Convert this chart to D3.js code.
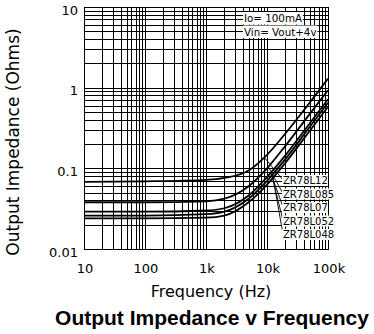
<!DOCTYPE html>
<html>
<head>
<meta charset="utf-8">
<script src="https://cdn.jsdelivr.net/npm/d3@7"></script>
<style>
  body { margin: 0; background: #fff; }
  svg { display: block; }
</style>
</head>
<body>
<svg id="chart" width="374" height="334"></svg>
<script>
// values (Hz, Ohms)
const freqs = [10, 100, 1000, 2000, 5000, 10000, 20000, 50000, 100000];
const zr78l12  = [0.068, 0.069, 0.072, 0.076, 0.094, 0.147, 0.27, 0.65, 1.3];
const zr78l085 = [0.038, 0.038, 0.039, 0.042, 0.060, 0.100, 0.19, 0.47, 0.93];
const zr78l07  = [0.029, 0.029, 0.030, 0.032, 0.046, 0.078, 0.145, 0.36, 0.72];
const zr78l052 = [0.026, 0.026, 0.027, 0.029, 0.042, 0.070, 0.13, 0.325, 0.65];
const zr78l048 = [0.024, 0.024, 0.0245, 0.026, 0.038, 0.063, 0.117, 0.29, 0.58];

const seriesNames = ["ZR78L12", "ZR78L085", "ZR78L07", "ZR78L052", "ZR78L048"];
const seriesValues = [zr78l12, zr78l085, zr78l07, zr78l052, zr78l048];
const leaderFreqs = [9000, 10500, 11500, 12000, 12500];

const xTickLabels = ["10", "100", "1k", "10k", "100k"];
const xTickValues = [10, 100, 1000, 10000, 100000];
const yTickLabels = ["0.01", "0.1", "1", "10"];
const yTickValues = [0.01, 0.1, 1, 10];

const conditions = ["Io= 100mA", "Vin= Vout+4v"];

const svg = d3.select("#chart");
const plot = { left: 84, right: 328, top: 7, bottom: 249 };

const x = d3.scaleLog().domain([10, 100000]).range([plot.left, plot.right]);
const y = d3.scaleLog().domain([0.01, 10]).range([plot.bottom, plot.top]);

const crisp = v => Math.round(v) + 0.5;

// grid
const grid = svg.append("g")
  .attr("stroke", "#000")
  .attr("stroke-width", 1)
  .attr("shape-rendering", "crispEdges");

grid.selectAll("line.v")
  .data(x.ticks())
  .join("line")
  .attr("class", "v")
  .attr("x1", d => crisp(x(d))).attr("x2", d => crisp(x(d)))
  .attr("y1", plot.top).attr("y2", plot.bottom);

grid.selectAll("line.h")
  .data(y.ticks())
  .join("line")
  .attr("class", "h")
  .attr("y1", d => crisp(y(d))).attr("y2", d => crisp(y(d)))
  .attr("x1", plot.left).attr("x2", plot.right);

grid.append("rect")
  .attr("x", crisp(plot.left)).attr("y", crisp(plot.top))
  .attr("width", Math.round(plot.right - plot.left))
  .attr("height", Math.round(plot.bottom - plot.top))
  .attr("fill", "none");

// curves
const line = d3.line()
  .x(d => x(d[0]))
  .y(d => y(d[1]))
  .curve(d3.curveMonotoneX);

svg.append("g")
  .selectAll("path")
  .data(seriesValues)
  .join("path")
  .attr("d", vals => line(freqs.map((f, i) => [f, vals[i]])))
  .attr("fill", "none")
  .attr("stroke", "#000")
  .attr("stroke-width", 1.8);

// log-log lookup of a curve at a frequency, for the leader lines
function valueAt(vals, f) {
  const i = Math.max(1, d3.bisectLeft(freqs, f));
  const t = (Math.log(f) - Math.log(freqs[i - 1])) / (Math.log(freqs[i]) - Math.log(freqs[i - 1]));
  return Math.exp(Math.log(vals[i - 1]) + t * (Math.log(vals[i]) - Math.log(vals[i - 1])));
}

// series labels with leaders
const labelFont = "10px 'DejaVu Sans'";
const labels = svg.append("g");
seriesNames.forEach((name, i) => {
  const by = 184 + i * 13.5;
  const tx = 283;
  const g = labels.append("g");
  g.append("line")
    .attr("x1", tx).attr("y1", by - 4)
    .attr("x2", x(leaderFreqs[i])).attr("y2", y(valueAt(seriesValues[i], leaderFreqs[i])))
    .attr("stroke", "#000").attr("stroke-width", 0.9);
  const bg = g.append("rect").attr("fill", "#fff");
  const t = g.append("text")
    .attr("x", tx).attr("y", by)
    .style("font", labelFont)
    .text(name);
  const bb = t.node().getBBox();
  bg.attr("x", bb.x - 1).attr("y", bb.y).attr("width", bb.width + 1).attr("height", bb.height);
});

// conditions box
conditions.forEach((c, i) => {
  const by = 22 + i * 13.5;
  const bg = svg.append("rect").attr("fill", "#fff");
  const t = svg.append("text")
    .attr("x", 244).attr("y", by)
    .style("font", "10.3px 'DejaVu Sans'")
    .text(c);
  const bb = t.node().getBBox();
  bg.attr("x", bb.x - 1).attr("y", bb.y).attr("width", bb.width + 2).attr("height", bb.height + 0.5);
});

// tick labels
svg.append("g")
  .selectAll("text")
  .data(xTickValues)
  .join("text")
  .attr("x", d => x(d) + 1)
  .attr("y", 273)
  .attr("text-anchor", "middle")
  .style("font", "13px 'DejaVu Sans'")
  .text((d, i) => xTickLabels[i]);

svg.append("g")
  .selectAll("text")
  .data(yTickValues)
  .join("text")
  .attr("x", 78)
  .attr("y", d => y(d) + 7.5)
  .attr("text-anchor", "end")
  .style("font", "13px 'DejaVu Sans'")
  .text((d, i) => yTickLabels[i]);

// axis titles
svg.append("text")
  .attr("transform", "translate(19,142) rotate(-90)")
  .attr("text-anchor", "middle")
  .style("font", "17px 'DejaVu Sans'")
  .text("Output Impedance (Ohms)");

svg.append("text")
  .attr("x", 211).attr("y", 297)
  .attr("text-anchor", "middle")
  .style("font", "16px 'DejaVu Sans'")
  .text("Frequency (Hz)");

svg.append("text")
  .attr("x", 212).attr("y", 325)
  .attr("text-anchor", "middle")
  .style("font", "bold 21px 'Liberation Sans'")
  .text("Output Impedance v Frequency");
</script>
</body>
</html>
